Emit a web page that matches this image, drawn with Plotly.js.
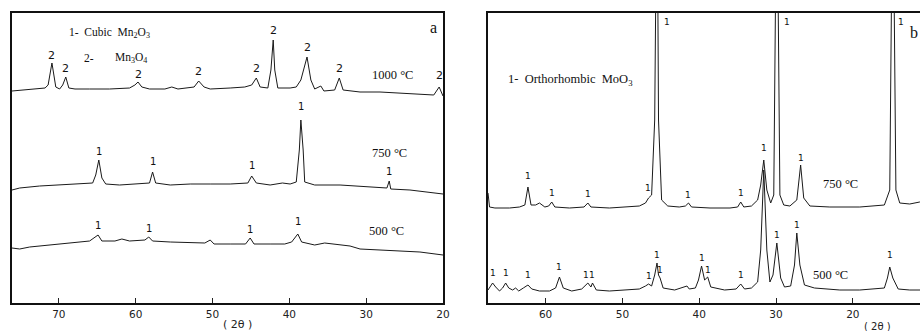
<!DOCTYPE html>
<html><head><meta charset="utf-8">
<script src="https://cdn.plot.ly/plotly-3.0.1.min.js"></script>
<style>html,body{margin:0;padding:0;overflow:hidden;background:#fff;width:920px;height:331px}#chart{width:945px;height:331px}</style>
</head><body><div id="chart"></div>
<script>
// Panel a: Mn oxide patterns (2θ, relative height)
const a1000x=[76.1,74.4,73.1,71.8,71.4,70.9,70.4,69.9,69.5,69.1,68.7,67.9,66.0,63.4,60.8,60.1,59.7,59.2,58.2,56.2,55.3,54.5,52.4,51.8,51.1,50.3,47.7,45.8,44.9,44.3,43.8,42.8,42.4,42.1,41.9,41.5,39.9,39.1,38.5,37.7,37.2,36.7,35.9,35.5,34.1,33.5,33.0,30.8,28.2,25.6,23.0,21.2,20.5,20.0];
const a1000y=[212,213,214,215,218,240,216,214,218,226,215,214,214,214,215,218,221,216,214,214,216,214,216,222,216,214,215,216,218,225,216,215,233,263,233,215,215,216,223,246,223,214,217,212,213,225,213,211,211,210,209,208,216,207];
const a750x=[76.1,75.1,72.5,69.9,67.3,65.6,65.2,64.8,64.4,63.9,62.1,59.5,58.2,57.8,57.4,55.5,52.9,50.3,47.7,45.4,44.9,44.3,42.5,40.9,39.9,39.1,38.7,38.5,38.2,38.0,36.7,33.4,29.5,27.3,27.0,26.8,24.3,21.7,20.0];
const a750y=[113,115,117,118,119,120,128,143,125,119,118,119,120,131,120,118,119,119,119,120,127,120,118,120,119,121,153,183,153,121,118,118,116,115,122,114,113,111,109];
const a500x=[76.1,75.1,73.8,71.2,68.6,66.0,64.9,64.4,62.7,61.8,60.8,58.8,58.3,57.8,55.5,52.9,51.0,50.3,49.8,47.7,45.7,45.1,44.6,42.5,40.6,39.7,38.9,38.4,36.7,35.4,34.1,32.1,30.8,28.2,25.6,23.0,20.0];
const a500y=[55,54,56,58,60,62,68,62,62,64,62,63,66,62,61,60,60,63,59,59,59,65,59,59,59,61,69,61,58,60,59,57,54,53,52,51,48];
// Panel b: MoO3 patterns
const b750x=[67.5,67.3,66.6,64.7,63.4,62.7,62.3,61.9,61.3,60.8,60.1,59.6,59.2,58.8,56.9,55.0,54.5,54.1,51.7,49.7,47.8,47.0,46.6,46.2,45.8,45.5,45.3,44.9,44.1,42.6,41.8,41.4,41.0,38.6,36.0,35.0,34.6,34.2,33.2,32.4,32.0,31.6,31.2,30.7,30.3,29.9,29.5,29.0,28.2,27.3,26.8,26.4,25.6,23.0,19.1,15.9,15.2,14.8,14.4,13.9,12.6,11.3,9.7];
const b750y=[110,96,95,95,96,98,116,98,98,100,96,97,101,96,95,96,100,96,95,96,97,100,105,108,183,450,183,103,97,96,97,100,96,95,95,96,101,96,97,103,118,143,113,100,108,450,108,98,97,103,138,105,97,96,96,98,113,450,113,100,99,101,100];
const b500x=[67.5,67.1,66.9,66.5,66.0,65.6,65.2,64.8,64.3,63.9,63.5,62.9,62.3,61.8,60.8,59.5,58.7,58.2,57.7,56.6,55.3,54.5,54.1,53.9,53.4,51.7,49.7,47.8,47.0,46.6,46.2,45.8,45.5,45.3,45.1,44.7,43.2,42.0,41.6,41.3,40.5,40.1,39.7,39.3,38.9,38.5,36.7,35.2,34.6,34.1,33.2,32.4,32.0,31.6,31.2,30.8,30.4,29.9,29.4,28.9,28.1,27.6,27.3,26.9,26.3,25.0,21.7,19.1,15.9,15.5,15.2,14.8,14.1,12.6,9.7];
const b500y=[13,17,20,16,12,15,20,15,13,15,12,15,18,14,12,12,15,26,15,12,14,20,16,20,13,12,13,14,17,19,17,28,40,28,25,15,13,16,17,14,15,23,37,23,26,16,13,14,19,14,15,21,53,133,53,21,28,60,25,16,17,38,70,38,18,15,13,13,15,25,36,25,14,13,13];
// Peak labels
const labA2x=[70.9,69.1,59.7,51.8,44.3,42.1,37.7,33.5,20.4], labA2y=[248,235,229,232,235,273,256,235,228];
const labA750x=[64.8,57.8,44.9,38.5,27.0], labA750y=[152,142,138,197,132];
const labA500x=[64.9,58.3,45.1,38.9], labA500y=[78,75,74,82];
const labB750x=[62.3,59.2,54.5,46.7,41.4,34.6,31.6,26.8,44.2,28.6,13.8], labB750y=[127,110,109,115,108,110,155,145,281,281,281];
const labB500x=[66.9,65.2,62.3,58.2,54.8,53.9,46.6,45.5,45.1,39.7,38.9,34.6,29.9,27.3,15.2], labB500y=[30,30,28,36,28,28,27,48,33,45,33,28,68,78,48];
const ticksA=[70,60,50,40,30,20], ticksB=[60,50,40,30,20,10];

const line={color:'#1a1a1a',width:1};
const traces=[
 {x:a1000x,y:a1000y,xaxis:'x',yaxis:'y',mode:'lines',line},
 {x:a750x,y:a750y,xaxis:'x',yaxis:'y',mode:'lines',line},
 {x:a500x,y:a500y,xaxis:'x',yaxis:'y',mode:'lines',line},
 {x:b750x,y:b750y,xaxis:'x2',yaxis:'y2',mode:'lines',line},
 {x:b500x,y:b500y,xaxis:'x2',yaxis:'y2',mode:'lines',line}
];
const ann=[];
const lf={family:'DejaVu Sans, sans-serif',size:10,color:'#111'};
function addLabels(xs,ys,t,xr,yr,size){xs.forEach((x,i)=>ann.push({x:x,y:ys[i],xref:xr,yref:yr,text:t,showarrow:false,font:Object.assign({},lf,{size:size||10})}));}
addLabels(labA2x,labA2y,'2','x','y',11);
addLabels(labA750x,labA750y,'1','x','y',10);
addLabels(labA500x,labA500y,'1','x','y',10);
addLabels(labB750x,labB750y,'1','x2','y2',9);
addLabels(labB500x,labB500y,'1','x2','y2',9);
const sf={family:'Liberation Serif, serif',size:12.5,color:'#111'};
const sfs={family:'Liberation Serif, serif',size:11.5,color:'#111'};
const NB='\u00a0';
function txt(x,y,t,xr,yr,f,anchor){ann.push({x:x,y:y,xref:xr,yref:yr,text:t,showarrow:false,xanchor:anchor||'left',font:f});}
txt(69.0,270,'1-'+NB+' Cubic'+NB+' Mn<sub>2</sub>O<sub>3</sub>','x','y',sfs);
txt(67.0,245,'2-','x','y',sfs);
txt(63.0,245,'Mn<sub>3</sub>O<sub>4</sub>','x','y',sfs);
txt(21.3,276,'a','x','y',{family:'Liberation Serif, serif',size:16,color:'#111'},'center');
txt(29.5,228,'1000 °C','x','y',sf);
txt(29.5,150,'750 °C','x','y',sf);
txt(29.9,72,'500 °C','x','y',sf);
txt(65.1,223,'1-'+NB+' Orthorhombic'+NB+NB+'MoO<sub>3</sub>','x2','y2',sf);
txt(12.0,271,'b','x2','y2',{family:'Liberation Serif, serif',size:16,color:'#111'},'center');
txt(24.1,119,'750 °C','x2','y2',sf);
txt(25.4,28,'500 °C','x2','y2',sf);
ann.push({x:46.8,y:7/331,xref:'x',yref:'paper',yanchor:'middle',text:'( 2θ )',showarrow:false,font:{family:'DejaVu Sans, sans-serif',size:11,color:'#222'}});
ann.push({x:16.8,y:5/331,xref:'x2',yref:'paper',yanchor:'middle',text:'( 2θ )',showarrow:false,font:{family:'DejaVu Sans, sans-serif',size:10,color:'#222'}});
const W=945;
const ax={showline:true,mirror:true,linewidth:2,linecolor:'#111',showgrid:false,zeroline:false,ticks:'inside',ticklen:5,tickwidth:1,tickcolor:'#222',tickfont:{family:'DejaVu Sans, sans-serif',size:10.5,color:'#222'},tickmode:'array'};
const ay={showline:true,mirror:true,linewidth:2,linecolor:'#111',showgrid:false,zeroline:false,showticklabels:false,ticks:'',range:[0,290],domain:[28/331,318/331]};
const layout={width:W,height:331,margin:{l:0,r:0,t:0,b:0},paper_bgcolor:'#fff',plot_bgcolor:'#fff',showlegend:false,
 xaxis:Object.assign({},ax,{domain:[12/W,443/W],range:[76.1,20],tickvals:ticksA,ticktext:ticksA.map(String)}),
 xaxis2:Object.assign({},ax,{domain:[488/W,932/W],range:[67.5,9.7],tickvals:ticksB,ticktext:ticksB.map(String),anchor:'y2'}),
 yaxis:Object.assign({},ay,{anchor:'x'}),
 yaxis2:Object.assign({},ay,{anchor:'x2'}),
 annotations:ann};
Plotly.newPlot('chart',traces,layout,{staticPlot:true,displayModeBar:false});
</script></body></html>
